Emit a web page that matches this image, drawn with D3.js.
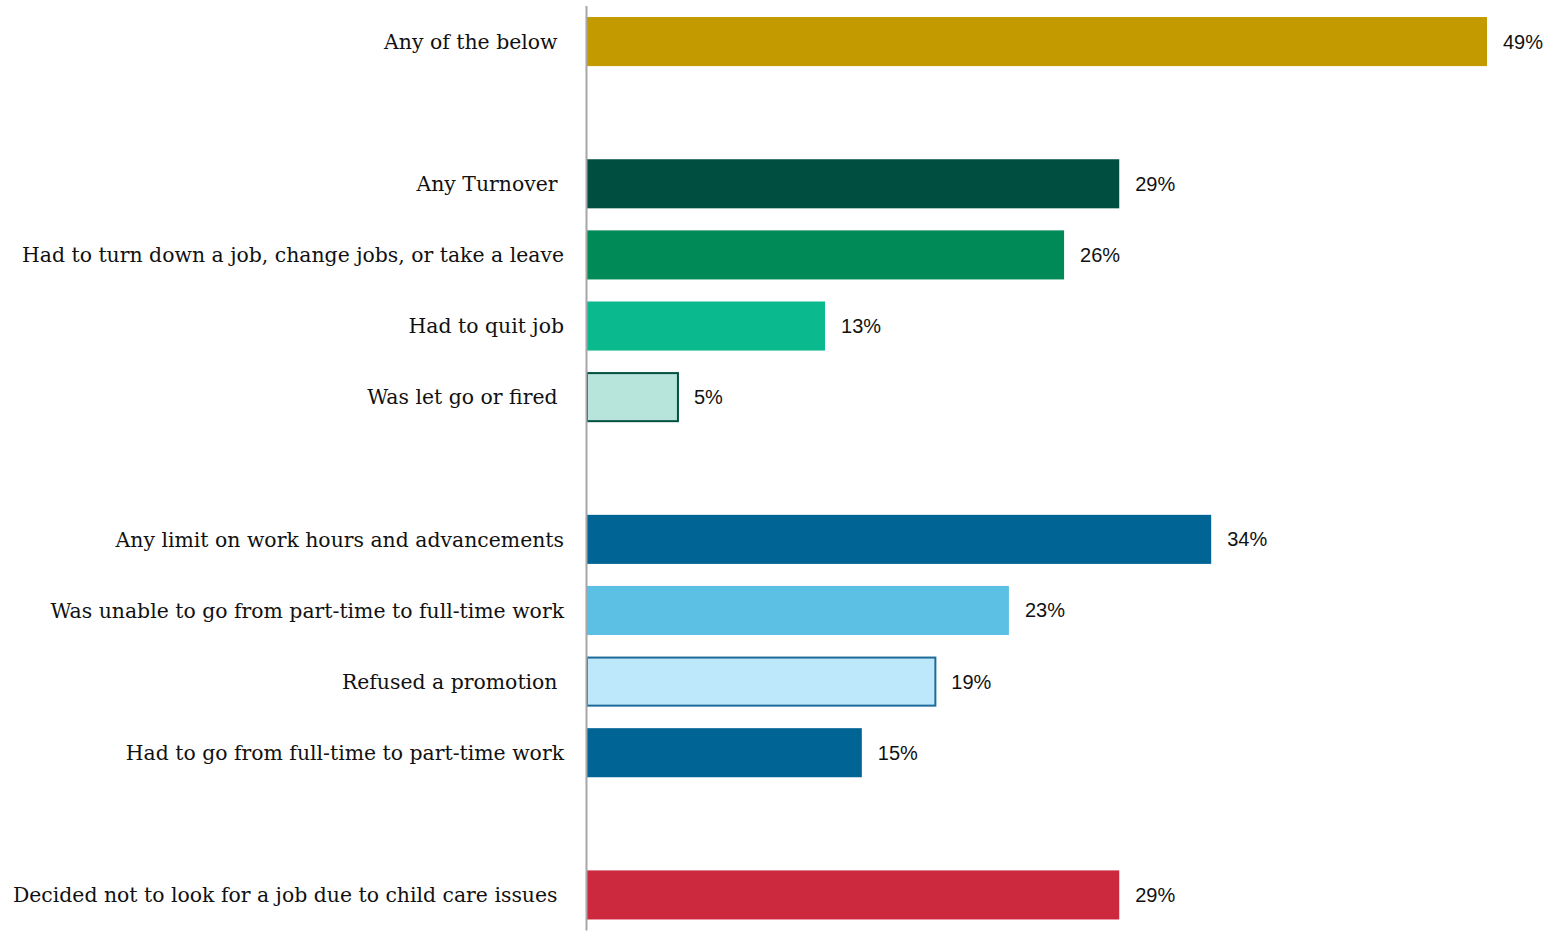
<!DOCTYPE html>
<html lang="en">
<head>
  <meta charset="UTF-8">
  <title>Child care impact on work</title>
  <style>
      body{
          margin:0;
          background:#fff;
      }
      .cat{
          font-family: "DejaVu Serif", "Liberation Serif", serif;
          font-size: 20.4px;
          fill: #111;
          white-space: pre;
      }
      .val{
          font-family: "Liberation Sans", Arial, sans-serif;
          font-size: 20px;
          fill: #111;
      }
  </style>
</head>
<body>
    <svg width="1553" height="932"></svg>
    <script src="https://d3js.org/d3.v7.min.js"></script>
    <script>

        // categories, top to bottom ("" = empty gap row)
        var categories = [
            "Any of the below ",
            "",
            "Any Turnover ",
            "Had to turn down a job, change jobs, or take a leave",
            "Had to quit job",
            "Was let go or fired ",
            "",
            "Any limit on work hours and advancements",
            "Was unable to go from part-time to full-time work",
            "Refused a promotion ",
            "Had to go from full-time to part-time work",
            "",
            "Decided not to look for a job due to child care issues "
        ];
        var values = [49, null, 29, 26, 13, 5, null, 34, 23, 19, 15, null, 29];
        var fills = ["#C39B00", null, "#004E3F", "#008A57", "#0BB98E", "#B8E5DB", null,
                     "#006494", "#5BC0E3", "#BDE8FB", "#006494", null, "#CC283E"];
        var strokes = [null, null, null, null, null, "#00503F", null,
                       null, null, "#1E6A98", null, null, null];

        var svg = d3.select("svg");
        var x0 = 586;

        var keys = categories.map(function(d, i){ return i; });

        var x = d3.scaleLinear()
            .domain([0, 49])
            .range([x0, 1487]);

        var y = d3.scaleBand()
            .domain(keys)
            .range([6, 930.5])
            .paddingInner(0.31)
            .paddingOuter(0.155);

        var rows = keys.filter(function(i){ return values[i] != null; });

        var g = svg.append("g");

        g.selectAll("rect")
            .data(rows)
            .enter().append("rect")
            .attr("x", x(0) + 1)
            .attr("y", function(i){ return y(i) + (strokes[i] ? 0.5 : 0); })
            .attr("width", function(i){ return x(values[i]) - x(0) - 1; })
            .attr("height", function(i){ return y.bandwidth() - (strokes[i] ? 1 : 0); })
            .attr("fill", function(i){ return fills[i]; })
            .attr("stroke", function(i){ return strokes[i] || "none"; })
            .attr("stroke-width", 2);

        g.selectAll("text.val")
            .data(rows)
            .enter().append("text")
            .attr("class", "val")
            .attr("x", function(i){ return x(values[i]) + 16; })
            .attr("y", function(i){ return y(i) + y.bandwidth() / 2; })
            .attr("dy", "0.35em")
            .text(function(i){ return values[i] + "%"; });

        g.selectAll("text.cat")
            .data(rows)
            .enter().append("text")
            .attr("class", "cat")
            .attr("x", 564)
            .attr("y", function(i){ return y(i) + y.bandwidth() / 2; })
            .attr("dy", "0.36em")
            .attr("text-anchor", "end")
            .text(function(i){ return categories[i]; });

        // vertical baseline
        svg.append("line")
            .attr("x1", x0 + 0.5).attr("x2", x0 + 0.5)
            .attr("y1", y.range()[0]).attr("y2", y.range()[1])
            .attr("stroke", "#A6A6A6")
            .attr("stroke-width", 2);

    </script>
</body>
</html>
